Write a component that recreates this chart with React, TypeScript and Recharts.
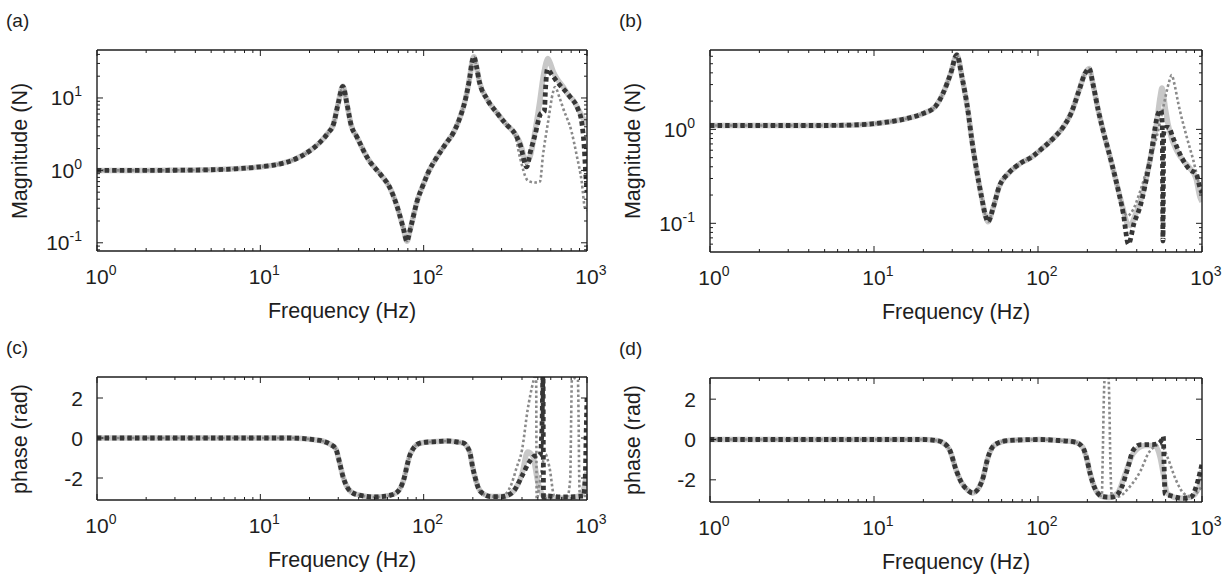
import React from 'react';
import { LineChart, Line, XAxis, YAxis } from 'recharts';

const FONT = '"Liberation Sans", Arial, Helvetica, sans-serif';
const INK = '#1e1e1e';

// ---- axis ticks ----
const decadeTicks = [1, 10, 100, 1000];
const freqTicks = [
  1, 2, 3, 4, 5, 6, 7, 8, 9, 10, 20, 30, 40, 50, 60, 70, 80, 90, 100, 200, 300, 400, 500,
  600, 700, 800, 900, 1000,
];
const magMajor = [0.1, 1, 10];
const magTicksA = [
  0.08, 0.09, 0.1, 0.2, 0.3, 0.4, 0.5, 0.6, 0.7, 0.8, 0.9, 1, 2, 3, 4, 5, 6, 7, 8, 9, 10, 20, 30, 40,
];
const magTicksB = [0.06, 0.07, 0.08, 0.09, 0.1, 0.2, 0.3, 0.4, 0.5, 0.6, 0.7, 0.8, 0.9, 1, 2, 3, 4, 5, 6];
const phaseTicks = [-2, 0, 2];

// ---- (a) magnitude, input 1 ----
const aBaseHz = [1, 2, 3, 5, 7, 10, 13, 16, 20, 23, 26, 28, 30, 32, 34, 36, 39, 46, 54, 62, 69, 75, 79, 82, 86, 91, 99, 107, 120, 137, 153, 166, 181, 192, 197, 203, 210, 219, 244, 280, 321, 359];
const aBase = [1.0, 1.0, 1.005, 1.02, 1.05, 1.12, 1.22, 1.4, 1.85, 2.4, 3.3, 4.3, 8.5, 14.5, 8.0, 4.2, 2.9, 1.4, 0.9, 0.58, 0.31, 0.16, 0.105, 0.14, 0.22, 0.37, 0.62, 0.95, 1.5, 2.35, 3.4, 5.2, 10, 20, 30, 37, 28, 17, 9.7, 6.3, 4.3, 3.3];
const aSolidHz = [389, 427, 450, 481, 510, 540, 560, 575, 590, 622, 660, 716, 770, 824, 900, 972, 1000];
const aSolid = [2.4, 1.3, 1.6, 3.5, 8, 20, 30, 35, 32, 23, 18, 14.2, 11, 9.3, 6.5, 4.7, 4.3];
const aDotHz = [389, 428, 448, 480, 515, 538, 578, 620, 637, 680, 716, 805, 864, 928, 972, 1000];
const aDot = [1.5, 0.75, 0.7, 0.68, 0.7, 1.64, 4.7, 12.1, 14.2, 10, 7.1, 3.4, 1.63, 0.7, 0.3, 0.28];
const aDashHz = [389, 427, 450, 481, 520, 548, 558, 572, 600, 640, 684, 787, 885, 930, 960, 985, 1000];
const aDash = [2.3, 1.12, 1.8, 3.1, 6.0, 6.5, 14, 25, 22, 18, 15, 10.4, 6.8, 4.5, 2.2, 0.8, 0.5];

// ---- (b) magnitude, input 2 ----
const bBaseHz = [1, 2, 3, 5, 7, 10, 13, 16, 20, 23.6, 26.3, 29.3, 32, 34.4, 37.6, 39.5, 41.9, 45.3, 48, 49.5, 53.5, 58, 66, 78, 92, 103, 121, 143, 159, 178, 193, 205, 216, 233, 252, 275, 305];
const bBase = [1.1, 1.1, 1.1, 1.1, 1.11, 1.15, 1.22, 1.31, 1.48, 1.74, 2.4, 3.9, 6.2, 3.6, 1.48, 0.77, 0.4, 0.19, 0.118, 0.104, 0.15, 0.246, 0.34, 0.435, 0.51, 0.6, 0.77, 1.07, 1.48, 2.6, 3.9, 4.45, 3.08, 1.6, 0.906, 0.51, 0.246];
const bSolidHz = [331, 350, 365, 390, 420, 482, 530, 555, 570, 585, 600, 640, 700, 780, 850, 920, 972, 1000];
const bSolid = [0.14, 0.1, 0.095, 0.12, 0.17, 0.47, 1.2, 2.2, 2.75, 2.2, 1.6, 0.9, 0.6, 0.45, 0.38, 0.3, 0.19, 0.17];
const bDotHz = [331, 350, 380, 420, 470, 529, 581, 630, 653, 680, 717, 807, 885, 972, 1000];
const bDot = [0.14, 0.12, 0.14, 0.22, 0.42, 0.83, 1.74, 3.2, 3.78, 3.0, 1.89, 0.83, 0.47, 0.245, 0.22];
const bDashHz = [331, 356, 385, 419, 482, 541, 562, 572, 578, 584, 600, 625, 668, 752, 845, 920, 972, 1000];
const bDash = [0.128, 0.06, 0.1, 0.15, 0.47, 1.48, 1.6, 1.2, 0.065, 0.9, 1.05, 1.05, 0.8, 0.5, 0.37, 0.34, 0.24, 0.21];

// ---- (c) phase, input 1 ----
const cBaseHz = [1, 5, 10, 15, 18, 21, 24, 27, 29, 30.5, 32, 33.5, 36, 41, 50, 62, 69, 73, 76, 79, 82, 86, 91, 100, 120, 140, 160, 175, 185, 192, 200, 207, 215, 231, 260, 300];
const cBase = [0, 0, 0, 0, -0.02, -0.08, -0.15, -0.33, -0.55, -1.2, -1.9, -2.35, -2.7, -2.87, -2.95, -2.87, -2.7, -2.4, -2.0, -1.4, -0.9, -0.55, -0.33, -0.22, -0.18, -0.15, -0.2, -0.25, -0.45, -0.74, -1.5, -2.0, -2.45, -2.79, -2.93, -2.93];
const cSolidHz = [318, 360, 400, 433, 465, 500, 550, 700, 850, 930, 970, 1000];
const cSolid = [-2.9, -2.6, -1.8, -0.7, -0.9, -2.2, -2.95, -3.0, -2.95, -2.8, -2.3, -1.7];
const cDotHz = [318, 345, 370, 400, 433, 470, 488, 492, 500, 530, 555, 590, 630, 700, 760, 790, 800, 808, 850, 880, 888, 896, 905, 1000];
const cDot = [-2.8, -2.3, -1.5, -0.6, 1.4, 2.85, 3.3, -3.3, -2.9, -1.5, -0.8, -1.5, -2.9, -3.0, -2.9, -2.0, 1.0, 2.9, 3.0, 2.9, 1.0, -2.0, -2.9, -2.9];
const cDashHz = [318, 360, 400, 443, 480, 515, 530, 538, 542, 548, 570, 700, 950, 975, 990, 1000];
const cDash = [-2.9, -2.6, -1.9, -1.2, -0.9, -0.9, 0.5, 3.3, -3.3, -2.9, -2.9, -2.95, -2.9, -2.0, 0.5, 2.0];

// ---- (d) phase, input 2 ----
const dBaseHz = [1, 10, 20, 24, 26, 29, 31.7, 34.4, 37.2, 40, 42.7, 46.4, 49, 52, 56, 66, 102, 134, 168, 187, 197, 208, 220, 237];
const dBase = [0, 0, 0, -0.05, -0.13, -0.54, -1.52, -2.18, -2.5, -2.65, -2.5, -1.85, -1.03, -0.46, -0.21, -0.05, 0, -0.05, -0.13, -0.38, -0.87, -1.69, -2.34, -2.75];
const dSolidHz = [245, 270, 305, 341, 380, 449, 516, 555, 585, 615, 734, 860, 960, 1000];
const dSolid = [-2.82, -2.88, -2.67, -1.69, -0.7, -0.3, -0.3, -0.87, -1.85, -2.67, -2.92, -2.84, -2.34, -1.52];
const dDotHz = [245, 248, 252, 256, 262, 268, 272, 276, 282, 305, 363, 424, 470, 527, 555, 615, 693, 772, 860, 960, 1000];
const dDot = [-2.8, -1.0, 2.0, 3.3, 3.4, 3.3, 2.0, -1.0, -2.8, -2.84, -2.34, -1.52, -0.7, -0.3, -0.21, -0.87, -2.0, -2.67, -2.84, -2.5, -2.3];
const dDashHz = [245, 270, 290, 325, 350, 380, 424, 498, 540, 570, 581, 587, 595, 656, 772, 860, 934, 1000];
const dDash = [-2.82, -2.86, -2.84, -2.34, -1.52, -0.54, -0.25, -0.25, -0.2, 0.0, 0.15, -1.2, -2.7, -2.8, -2.92, -2.84, -2.18, -1.2];

type Pt = { f: number; v: number };
const pts = (hz: number[], v: number[]): Pt[] => hz.map((f, i) => ({ f, v: v[i] }));
const join = (bHz: number[], b: number[], hz: number[], v: number[]) => pts(bHz, b).concat(pts(hz, v));

const STYLE = {
  solid: { stroke: '#c8c8c8', strokeWidth: 5.5 },
  dotted: { stroke: '#8a8a8a', strokeWidth: 2.6, strokeDasharray: '2.6 2.4' },
  dashed: { stroke: '#363636', strokeWidth: 4.8, strokeDasharray: '4.4 3.2' },
};

const TICK_FS = 21;
const SUP_FS = 14;
const TITLE_FS = 21.5;

const supLabel = (v: number) => String(Math.round(Math.log10(v)));

function BottomTick(props: any) {
  const { x, y, payload } = props;
  const v = payload.value;
  const major = decadeTicks.includes(v);
  return (
    <g>
      <line x1={x} x2={x} y1={y} y2={y - (major ? 6 : 3)} stroke={INK} strokeWidth={1} />
      {major && (
        <text x={x - 11.7} y={y + 33} fontSize={TICK_FS} fill={INK} fontFamily={FONT}>
          <tspan>10</tspan>
          <tspan dy={-9} fontSize={SUP_FS}>{supLabel(v)}</tspan>
        </text>
      )}
    </g>
  );
}

function TopTick(props: any) {
  const { x, y, payload } = props;
  const major = decadeTicks.includes(payload.value);
  return <line x1={x} x2={x} y1={y} y2={y + (major ? 6 : 3)} stroke={INK} strokeWidth={1} />;
}

function LeftTick(props: any) {
  const { x, y, payload, log } = props;
  const v = payload.value;
  const major = log ? magMajor.includes(v) : true;
  return (
    <g>
      <line x1={x} x2={x + (major ? 6 : 3)} y1={y} y2={y} stroke={INK} strokeWidth={1} />
      {major && log && (
        <text x={x - 15} y={y + 7.5} fontSize={TICK_FS} fill={INK} fontFamily={FONT} textAnchor="end">
          <tspan>10</tspan>
          <tspan dy={-9} fontSize={SUP_FS}>{supLabel(v)}</tspan>
        </text>
      )}
      {!log && (
        <text x={x - 14} y={y + 7.5} fontSize={TICK_FS} fill={INK} fontFamily={FONT} textAnchor="end">
          {String(v)}
        </text>
      )}
    </g>
  );
}

function RightTick(props: any) {
  const { x, y, payload, log } = props;
  const major = log ? magMajor.includes(payload.value) : true;
  return <line x1={x} x2={x - (major ? 6 : 3)} y1={y} y2={y} stroke={INK} strokeWidth={1} />;
}

type PanelProps = {
  left: number;
  top: number;
  right: number;
  bottom: number;
  letter: string;
  yLabel: string;
  log: boolean;
  yDomain: [number, number];
  yTicks: number[];
  solid: Pt[];
  dotted: Pt[];
  dashed: Pt[];
};

// outer room around each plot box (axes take 1px each)
const ML = 97;
const MT = 50;
const MR = 25;
const MB = 50;

function Panel(p: PanelProps) {
  const w = p.right - p.left + ML + MR;
  const h = p.bottom - p.top + MT + MB;
  const axisLine = { stroke: INK, strokeWidth: 1.4 };
  const yScale = p.log ? 'log' : 'linear';
  const midX = (p.left + p.right) / 2;
  const midY = (p.top + p.bottom) / 2;
  return (
    <>
      <div style={{ position: 'absolute', left: p.left - ML, top: p.top - MT }}>
        <LineChart width={w} height={h} margin={{ top: MT - 1, right: MR - 1, bottom: MB - 1, left: ML - 1 }}>
          <XAxis
            dataKey="f"
            type="number"
            scale="log"
            domain={[1, 1000]}
            allowDataOverflow
            ticks={freqTicks}
            interval={0}
            height={1}
            tickSize={0}
            tickMargin={0}
            tickLine={false}
            axisLine={axisLine}
            tick={(t: any) => <BottomTick {...t} />}
          />
          <XAxis
            xAxisId="top"
            orientation="top"
            dataKey="f"
            type="number"
            scale="log"
            domain={[1, 1000]}
            allowDataOverflow
            ticks={freqTicks}
            interval={0}
            height={1}
            tickSize={0}
            tickMargin={0}
            tickLine={false}
            axisLine={axisLine}
            tick={(t: any) => <TopTick {...t} />}
          />
          <YAxis
            type="number"
            scale={yScale}
            domain={p.yDomain}
            allowDataOverflow
            ticks={p.yTicks}
            interval={0}
            width={1}
            tickSize={0}
            tickMargin={0}
            tickLine={false}
            axisLine={axisLine}
            tick={(t: any) => <LeftTick {...t} log={p.log} />}
          />
          <YAxis
            yAxisId="right"
            orientation="right"
            type="number"
            scale={yScale}
            domain={p.yDomain}
            allowDataOverflow
            ticks={p.yTicks}
            interval={0}
            width={1}
            tickSize={0}
            tickMargin={0}
            tickLine={false}
            axisLine={axisLine}
            tick={(t: any) => <RightTick {...t} log={p.log} />}
          />
          <Line data={p.solid} dataKey="v" type="monotone" dot={false} activeDot={false} isAnimationActive={false} {...STYLE.solid} />
          <Line data={p.dotted} dataKey="v" type="monotone" dot={false} activeDot={false} isAnimationActive={false} {...STYLE.dotted} />
          <Line data={p.dashed} dataKey="v" type="monotone" dot={false} activeDot={false} isAnimationActive={false} {...STYLE.dashed} />
        </LineChart>
      </div>
      <div style={{ position: 'absolute', left: p.left - 91, top: p.top - 39, fontSize: 19, lineHeight: '19px', color: INK }}>
        {p.letter}
      </div>
      <div
        style={{
          position: 'absolute',
          left: midX,
          top: p.bottom + 60,
          transform: 'translate(-50%, -50%)',
          fontSize: TITLE_FS,
          whiteSpace: 'nowrap',
          color: INK,
        }}
      >
        Frequency (Hz)
      </div>
      <div
        style={{
          position: 'absolute',
          left: p.left - 77,
          top: midY,
          transform: 'translate(-50%, -50%) rotate(-90deg)',
          fontSize: TITLE_FS,
          whiteSpace: 'nowrap',
          color: INK,
        }}
      >
        {p.yLabel}
      </div>
    </>
  );
}

export default function App() {
  return (
    <div
      style={{
        position: 'absolute',
        left: 0,
        top: 0,
        width: 1224,
        height: 574,
        background: '#fff',
        fontFamily: FONT,
        overflow: 'hidden',
      }}
    >
      <Panel
        left={97}
        top={50}
        right={587}
        bottom={251}
        letter="(a)"
        yLabel="Magnitude (N)"
        log
        yDomain={[0.077, 46]}
        yTicks={magTicksA}
        solid={join(aBaseHz, aBase, aSolidHz, aSolid)}
        dotted={join(aBaseHz, aBase, aDotHz, aDot)}
        dashed={join(aBaseHz, aBase, aDashHz, aDash)}
      />
      <Panel
        left={710}
        top={50}
        right={1202}
        bottom={252}
        letter="(b)"
        yLabel="Magnitude (N)"
        log
        yDomain={[0.0495, 7]}
        yTicks={magTicksB}
        solid={join(bBaseHz, bBase, bSolidHz, bSolid)}
        dotted={join(bBaseHz, bBase, bDotHz, bDot)}
        dashed={join(bBaseHz, bBase, bDashHz, bDash)}
      />
      <Panel
        left={97}
        top={377}
        right={587}
        bottom={500}
        letter="(c)"
        yLabel="phase (rad)"
        log={false}
        yDomain={[-3.1, 3.05]}
        yTicks={phaseTicks}
        solid={join(cBaseHz, cBase, cSolidHz, cSolid)}
        dotted={join(cBaseHz, cBase, cDotHz, cDot)}
        dashed={join(cBaseHz, cBase, cDashHz, cDash)}
      />
      <Panel
        left={710}
        top={378}
        right={1202}
        bottom={502}
        letter="(d)"
        yLabel="phase (rad)"
        log={false}
        yDomain={[-3.1, 3.05]}
        yTicks={phaseTicks}
        solid={join(dBaseHz, dBase, dSolidHz, dSolid)}
        dotted={join(dBaseHz, dBase, dDotHz, dDot)}
        dashed={join(dBaseHz, dBase, dDashHz, dDash)}
      />
    </div>
  );
}
